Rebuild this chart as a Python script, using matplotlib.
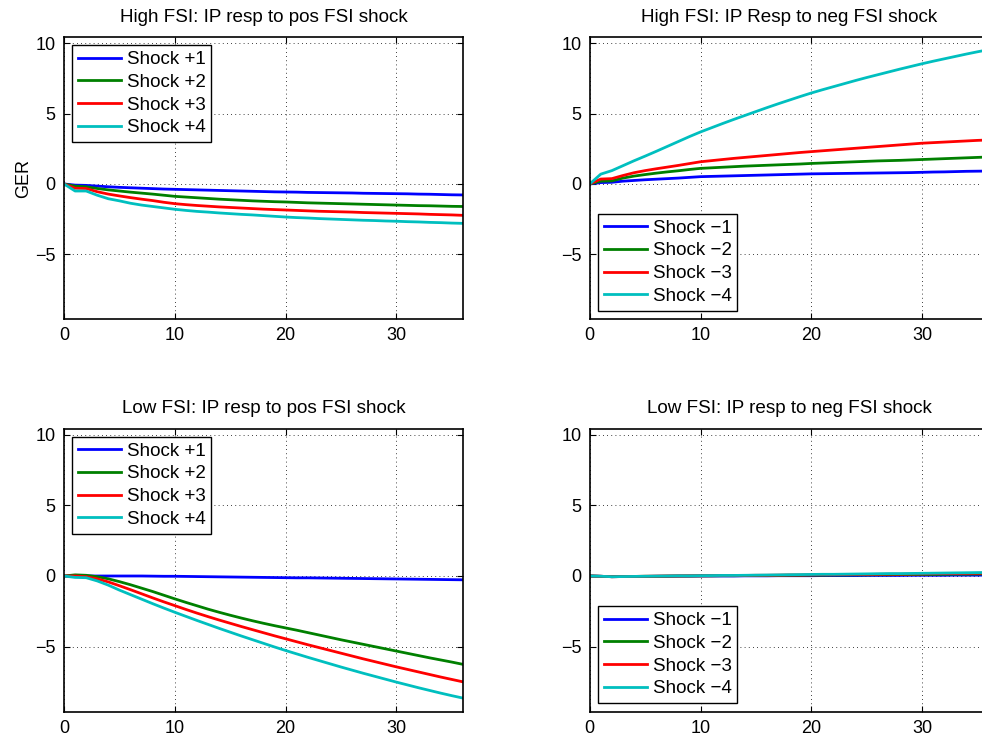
import matplotlib
matplotlib.use("Agg")
import matplotlib.pyplot as plt
import numpy as np

plt.rcParams['font.family'] = ['Liberation Sans', 'DejaVu Sans']

horizon = list(range(37))

titles = ["High FSI: IP resp to pos FSI shock", "High FSI: IP Resp to neg FSI shock",
          "Low FSI: IP resp to pos FSI shock", "Low FSI: IP resp to neg FSI shock"]
pos_labels = ["Shock +1", "Shock +2", "Shock +3", "Shock +4"]
neg_labels = ["Shock \u22121", "Shock \u22122", "Shock \u22123", "Shock \u22124"]
ylabel_text = "GER"
xticks = [0, 10, 20, 30]
yticks = [-5, 0, 5, 10]

# High FSI, positive shocks
hp1 = [0, -0.08, -0.1, -0.15, -0.2, -0.24, -0.27, -0.3, -0.33, -0.36, -0.38, -0.4, -0.42, -0.44, -0.46, -0.48, -0.5, -0.52, -0.54, -0.56, -0.57, -0.58, -0.6, -0.61, -0.62, -0.63, -0.64, -0.66, -0.67, -0.68, -0.69, -0.7, -0.72, -0.73, -0.75, -0.77, -0.78]
hp2 = [0, -0.15, -0.2, -0.32, -0.42, -0.5, -0.58, -0.65, -0.72, -0.8, -0.88, -0.93, -0.98, -1.03, -1.08, -1.12, -1.16, -1.2, -1.23, -1.26, -1.28, -1.31, -1.34, -1.36, -1.38, -1.40, -1.42, -1.44, -1.46, -1.48, -1.5, -1.52, -1.54, -1.55, -1.57, -1.59, -1.6]
hp3 = [0, -0.3, -0.32, -0.55, -0.72, -0.85, -0.97, -1.08, -1.18, -1.3, -1.4, -1.47, -1.53, -1.58, -1.63, -1.67, -1.71, -1.75, -1.79, -1.82, -1.85, -1.88, -1.91, -1.94, -1.96, -1.98, -2.0, -2.03, -2.05, -2.07, -2.09, -2.11, -2.13, -2.16, -2.18, -2.2, -2.23]
hp4 = [0, -0.5, -0.5, -0.8, -1.05, -1.2, -1.37, -1.5, -1.6, -1.7, -1.8, -1.88, -1.95, -2.0, -2.06, -2.11, -2.16, -2.2, -2.25, -2.3, -2.35, -2.39, -2.42, -2.46, -2.49, -2.52, -2.55, -2.58, -2.6, -2.63, -2.65, -2.68, -2.7, -2.73, -2.75, -2.78, -2.8]

# High FSI, negative shocks
hn1 = [0, 0.1, 0.12, 0.2, 0.25, 0.3, 0.34, 0.38, 0.42, 0.47, 0.52, 0.54, 0.56, 0.58, 0.6, 0.62, 0.64, 0.66, 0.68, 0.7, 0.72, 0.73, 0.74, 0.75, 0.76, 0.77, 0.78, 0.79, 0.8, 0.81, 0.83, 0.85, 0.86, 0.88, 0.9, 0.91, 0.92]
hn2 = [0, 0.2, 0.22, 0.42, 0.56, 0.67, 0.77, 0.86, 0.94, 1.03, 1.11, 1.15, 1.19, 1.23, 1.27, 1.3, 1.33, 1.36, 1.39, 1.42, 1.46, 1.49, 1.52, 1.55, 1.58, 1.61, 1.64, 1.66, 1.68, 1.71, 1.74, 1.77, 1.8, 1.83, 1.86, 1.89, 1.92]
hn3 = [0, 0.35, 0.38, 0.6, 0.8, 0.95, 1.08, 1.2, 1.32, 1.45, 1.58, 1.66, 1.74, 1.82, 1.89, 1.96, 2.03, 2.1, 2.17, 2.24, 2.3, 2.36, 2.42, 2.48, 2.54, 2.6, 2.66, 2.72, 2.78, 2.84, 2.9, 2.94, 2.98, 3.02, 3.06, 3.1, 3.13]
hn4 = [0, 0.7, 0.95, 1.3, 1.65, 1.98, 2.32, 2.67, 3.02, 3.37, 3.7, 4.0, 4.3, 4.59, 4.87, 5.15, 5.43, 5.7, 5.96, 6.22, 6.47, 6.7, 6.92, 7.14, 7.36, 7.57, 7.77, 7.97, 8.17, 8.36, 8.55, 8.73, 8.9, 9.07, 9.24, 9.4, 9.55]

# Low FSI, positive shocks
lp1 = [0, 0, 0, 0, 0, 0, 0, 0, -0.01, -0.02, -0.02, -0.03, -0.04, -0.05, -0.06, -0.07, -0.08, -0.09, -0.1, -0.11, -0.12, -0.13, -0.13, -0.14, -0.15, -0.16, -0.17, -0.18, -0.19, -0.2, -0.21, -0.22, -0.23, -0.24, -0.25, -0.26, -0.27]
lp2 = [0, 0.08, 0.05, -0.05, -0.2, -0.4, -0.62, -0.86, -1.1, -1.36, -1.62, -1.87, -2.11, -2.35, -2.57, -2.78, -2.98, -3.17, -3.35, -3.52, -3.68, -3.84, -4.01, -4.18, -4.35, -4.52, -4.68, -4.84, -5.0, -5.16, -5.32, -5.48, -5.64, -5.8, -5.95, -6.1, -6.26]
lp3 = [0, 0, -0.05, -0.2, -0.42, -0.69, -0.97, -1.26, -1.55, -1.83, -2.1, -2.37, -2.63, -2.88, -3.12, -3.35, -3.58, -3.8, -4.02, -4.24, -4.45, -4.66, -4.87, -5.07, -5.27, -5.47, -5.67, -5.87, -6.06, -6.25, -6.44, -6.62, -6.8, -6.98, -7.16, -7.33, -7.5]
lp4 = [0, -0.1, -0.12, -0.35, -0.65, -1.0, -1.32, -1.64, -1.96, -2.27, -2.57, -2.86, -3.15, -3.43, -3.71, -3.98, -4.25, -4.51, -4.77, -5.03, -5.28, -5.52, -5.76, -5.99, -6.22, -6.45, -6.67, -6.89, -7.1, -7.31, -7.52, -7.72, -7.92, -8.11, -8.3, -8.48, -8.65]

# Low FSI, negative shocks
ln1 = [0, -0.02, -0.05, -0.04, -0.03, -0.03, -0.02, -0.02, -0.01, -0.01, 0, 0, 0, 0, 0.01, 0.01, 0.01, 0.02, 0.02, 0.02, 0.02, 0.03, 0.03, 0.03, 0.03, 0.04, 0.04, 0.04, 0.04, 0.05, 0.05, 0.05, 0.05, 0.06, 0.06, 0.06, 0.06]
ln2 = [0, -0.02, -0.05, -0.04, -0.03, -0.02, -0.02, -0.01, 0, 0, 0.01, 0.01, 0.02, 0.02, 0.03, 0.03, 0.04, 0.04, 0.05, 0.05, 0.06, 0.06, 0.07, 0.07, 0.08, 0.08, 0.09, 0.09, 0.1, 0.1, 0.11, 0.11, 0.12, 0.13, 0.13, 0.14, 0.15]
ln3 = [0, -0.02, -0.05, -0.04, -0.03, -0.02, -0.01, 0, 0, 0.01, 0.01, 0.02, 0.03, 0.03, 0.04, 0.05, 0.05, 0.06, 0.07, 0.07, 0.08, 0.09, 0.09, 0.1, 0.11, 0.11, 0.12, 0.13, 0.13, 0.14, 0.15, 0.16, 0.17, 0.17, 0.18, 0.19, 0.2]
ln4 = [0, -0.02, -0.05, -0.04, -0.03, -0.02, -0.01, 0, 0.01, 0.01, 0.02, 0.03, 0.04, 0.04, 0.05, 0.06, 0.07, 0.08, 0.09, 0.1, 0.11, 0.12, 0.12, 0.13, 0.14, 0.15, 0.16, 0.17, 0.17, 0.18, 0.19, 0.2, 0.21, 0.22, 0.23, 0.24, 0.25]

colors = [(0, 0, 1), (0, 0.5, 0), (1, 0, 0), (0, 0.75, 0.75)]

panels = [
    ([hp1, hp2, hp3, hp4], pos_labels, 'upper left'),
    ([hn1, hn2, hn3, hn4], neg_labels, 'lower left'),
    ([lp1, lp2, lp3, lp4], pos_labels, 'upper left'),
    ([ln1, ln2, ln3, ln4], neg_labels, 'lower left'),
]

W, H = 982, 740
fig = plt.figure(figsize=(W / 100, H / 100), dpi=100)
rects = [
    (64, 37, 399, 282),
    (589.7, 37, 399, 282),
    (64, 428.5, 399, 283),
    (589.7, 428.5, 399, 283),
]

for i, ((series, labels, loc), (l, t, w, h)) in enumerate(zip(panels, rects)):
    ax = fig.add_axes([l / W, 1 - (t + h) / H, w / W, h / H])
    for s, lab, c in zip(series, labels, colors):
        ax.plot(horizon, s, color=c, lw=2.0, label=lab)
    ax.set_xlim(0, 36)
    ax.set_ylim(-9.6, 10.45)
    ax.set_xticks(xticks)
    ax.set_yticks(yticks)
    ax.tick_params(direction='in', top=True, right=True, length=4, labelsize=13, pad=6)
    ax.grid(True, linestyle=(0, (1, 4)), color='black', linewidth=0.6)
    for sp in ax.spines.values():
        sp.set_linewidth(1.2)
    ax.set_title(titles[i], fontsize=13.6, pad=11)
    leg = ax.legend(loc=loc, fontsize=13.5, frameon=True, fancybox=False,
                    edgecolor='black', framealpha=1, borderaxespad=0.45,
                    handlelength=2.3, labelspacing=0.3, borderpad=0.3,
                    handletextpad=0.3)
    leg.get_frame().set_linewidth(1.0)
    if i == 0:
        ax.set_ylabel(ylabel_text, fontsize=13, labelpad=2)

fig.savefig("out.png", dpi=100)
